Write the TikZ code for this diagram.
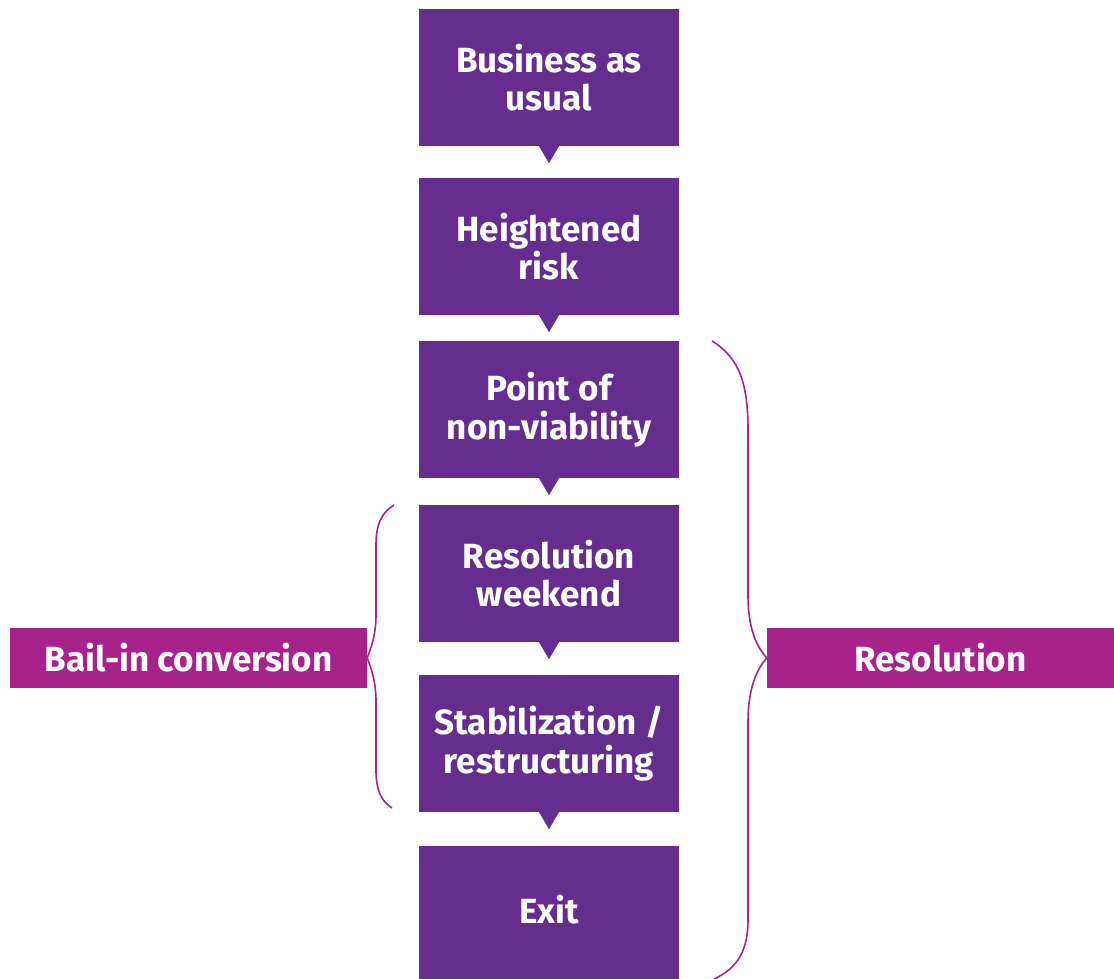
\documentclass[tikz,border=0pt]{standalone}
\usepackage{fontspec}
\setmainfont{Fira Sans}
\definecolor{stagepurple}{RGB}{101,45,142}
\definecolor{phasemagenta}{RGB}{168,34,140}
\begin{document}
\begin{tikzpicture}[x=1pt,y=-1pt,
  stage/.style={fill=stagepurple, text=white, align=center,
    font=\fontsize{35}{38.5}\selectfont\bfseries,
    minimum width=260pt, minimum height=137pt, inner sep=0pt},
  phase/.style={fill=phasemagenta, text=white, align=center,
    font=\fontsize{35}{38.5}\selectfont\bfseries,
    minimum height=60pt, inner sep=0pt},
  pointer/.style={fill=stagepurple},
  bracket/.style={draw=phasemagenta, line width=1.6pt}
]
\useasboundingbox (0,0) rectangle (1114,979);

% stages of the process
\node[stage] (b1) at (549,77.5)  {Business as\\usual};
\node[stage] (b2) at (549,246.5) {Heightened\\risk};
\node[stage] (b3) at (549,409.5) {Point of\\non-viability};
\node[stage] (b4) at (549,573.5) {Resolution\\weekend};
\node[stage] (b5) at (549,743.5) {Stabilization /\\restructuring};
\node[stage] (b6) at (549,914.5) {\raisebox{10pt}{Exit}};

% small downward pointers under each stage
\foreach \b in {b1,b2,b3,b4,b5}{
  \fill[pointer] ([xshift=-10pt]\b.south) -- ([xshift=10pt]\b.south)
    -- ([yshift=-17pt]\b.south) -- cycle;
}

% phase labels
\node[phase, minimum width=357pt] (bail) at (188.5,658) {Bail-in conversion};
\node[phase, minimum width=347pt] (res)  at (940.5,658) {Resolution};

% right brace: Resolution
\draw[bracket] (712,341) .. controls (740,358) and (748,385) .. (748,430)
  -- (748,596) .. controls (748,625) and (755,645) .. (res.west)
  .. controls (755,671) and (748,692) .. (748,722)
  -- (748,920) .. controls (748,950) and (738,968) .. (714,979);

% left brace: Bail-in conversion
\draw[bracket] (394,505) .. controls (381,513) and (376,525) .. (376,545)
  -- (376,615) .. controls (376,635) and (371,648) .. (bail.east)
  .. controls (371,668) and (376,681) .. (376,701)
  -- (376,770) .. controls (376,790) and (381,801) .. (392,808);
\end{tikzpicture}
\end{document}
